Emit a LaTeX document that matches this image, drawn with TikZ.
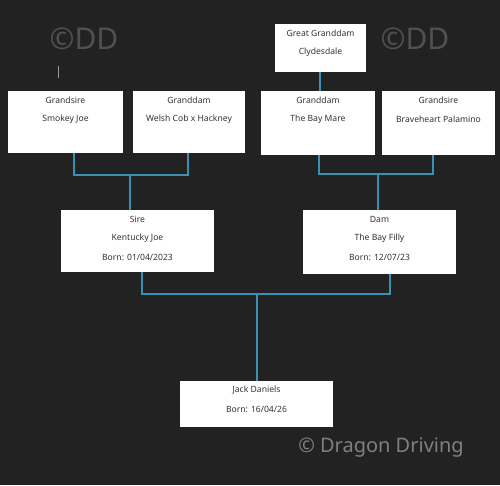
\documentclass[tikz,border=0pt]{standalone}
\usepackage{fontspec}
\setmainfont{Noto Sans}
\definecolor{linkc}{RGB}{58,145,182}
\definecolor{bgc}{RGB}{34,34,34}
\definecolor{wmc}{RGB}{80,80,80}
\definecolor{dragc}{RGB}{128,128,128}
\begin{document}
\begin{tikzpicture}[x=1pt,y=-1pt,
  box/.style={draw=none,fill=white,anchor=north west,inner sep=0pt},
  txt/.style={font=\fontsize{8.6}{9}\selectfont,text=black!80},
  link/.style={draw=linkc,line width=1.3pt},
  wm/.style={font=\fontsize{30}{32}\selectfont,text=wmc}]
\fill[bgc] (0,0) rectangle (500,485);
\useasboundingbox (0,0) rectangle (500,485);
% boxes
\node[box,minimum width=115pt,minimum height=62pt] (gs1) at (8,91) {};
\node[box,minimum width=112pt,minimum height=62pt] (gd1) at (133,91) {};
\node[box,minimum width=91pt,minimum height=48pt] (ggd) at (275,24) {};
\node[box,minimum width=114pt,minimum height=64pt] (gd2) at (261,91) {};
\node[box,minimum width=113pt,minimum height=64pt] (gs2) at (382,91) {};
\node[box,minimum width=153pt,minimum height=62pt] (sire) at (61,210) {};
\node[box,minimum width=153pt,minimum height=64pt] (dam) at (303,210) {};
\node[box,minimum width=153pt,minimum height=46pt] (jack) at (180,381) {};
% texts
\node[txt] (t1a) at (65.5,100) {Grandsire};
\node[txt] (t1b) at (65.5,119) {Smokey Joe};
\node[txt] (t2a) at (189,100) {Granddam};
\node[txt] (t2b) at (189,119) {Welsh Cob x Hackney};
\node[txt] (t3a) at (320.5,33) {Great Granddam};
\node[txt] (t3b) at (320.5,52) {Clydesdale};
\node[txt] (t4a) at (318,100) {Granddam};
\node[txt] (t4b) at (318,119) {The Bay Mare};
\node[txt] (t5a) at (438.5,100) {Grandsire};
\node[txt] (t5b) at (438.5,119) {Braveheart Palamino};
\node[txt] (t6a) at (137.5,219) {Sire};
\node[txt] (t6b) at (137.5,238) {Kentucky Joe};
\node[txt] (t6c) at (137.5,257) {Born: 01/04/2023};
\node[txt] (t7a) at (379.5,219) {Dam};
\node[txt] (t7b) at (379.5,238) {The Bay Filly};
\node[txt] (t7c) at (379.5,257) {Born: 12/07/23};
\node[txt] (t8a) at (256.5,390) {Jack Daniels};
\node[txt] (t8b) at (256.5,409) {Born: 16/04/26};
% connectors
\coordinate (j1) at (130,175);
\coordinate (j2) at (378,174);
\coordinate (j3) at (257,294);
\draw[link] (gs1.south west -| 74,0) |- (j1) -| (gd1.south west -| 188,0);
\draw[link] (j1) -- (j1 |- sire.north);
\draw[link] (gd2.south west -| 319,0) |- (j2) -| (gs2.south west -| 433,0);
\draw[link] (j2) -- (j2 |- dam.north);
\draw[link] (ggd.south west -| 320,0) -- (gd2.north west -| 320,0);
\draw[link] (sire.south west -| 142,0) |- (j3) -| (dam.south west -| 390,0);
\draw[link] (j3) -- (j3 |- jack.north);
% watermarks
\node[wm] (w1) at (84,39) {©DD};
\node[wm] (w2) at (415,39) {©DD};
\draw[white!60!black,line width=0.8pt] (58,66) -- (58,78);
\node[font=\fontsize{20}{22}\selectfont,text=dragc] (w3) at (381,448) {© Dragon Driving};
\end{tikzpicture}
\end{document}
